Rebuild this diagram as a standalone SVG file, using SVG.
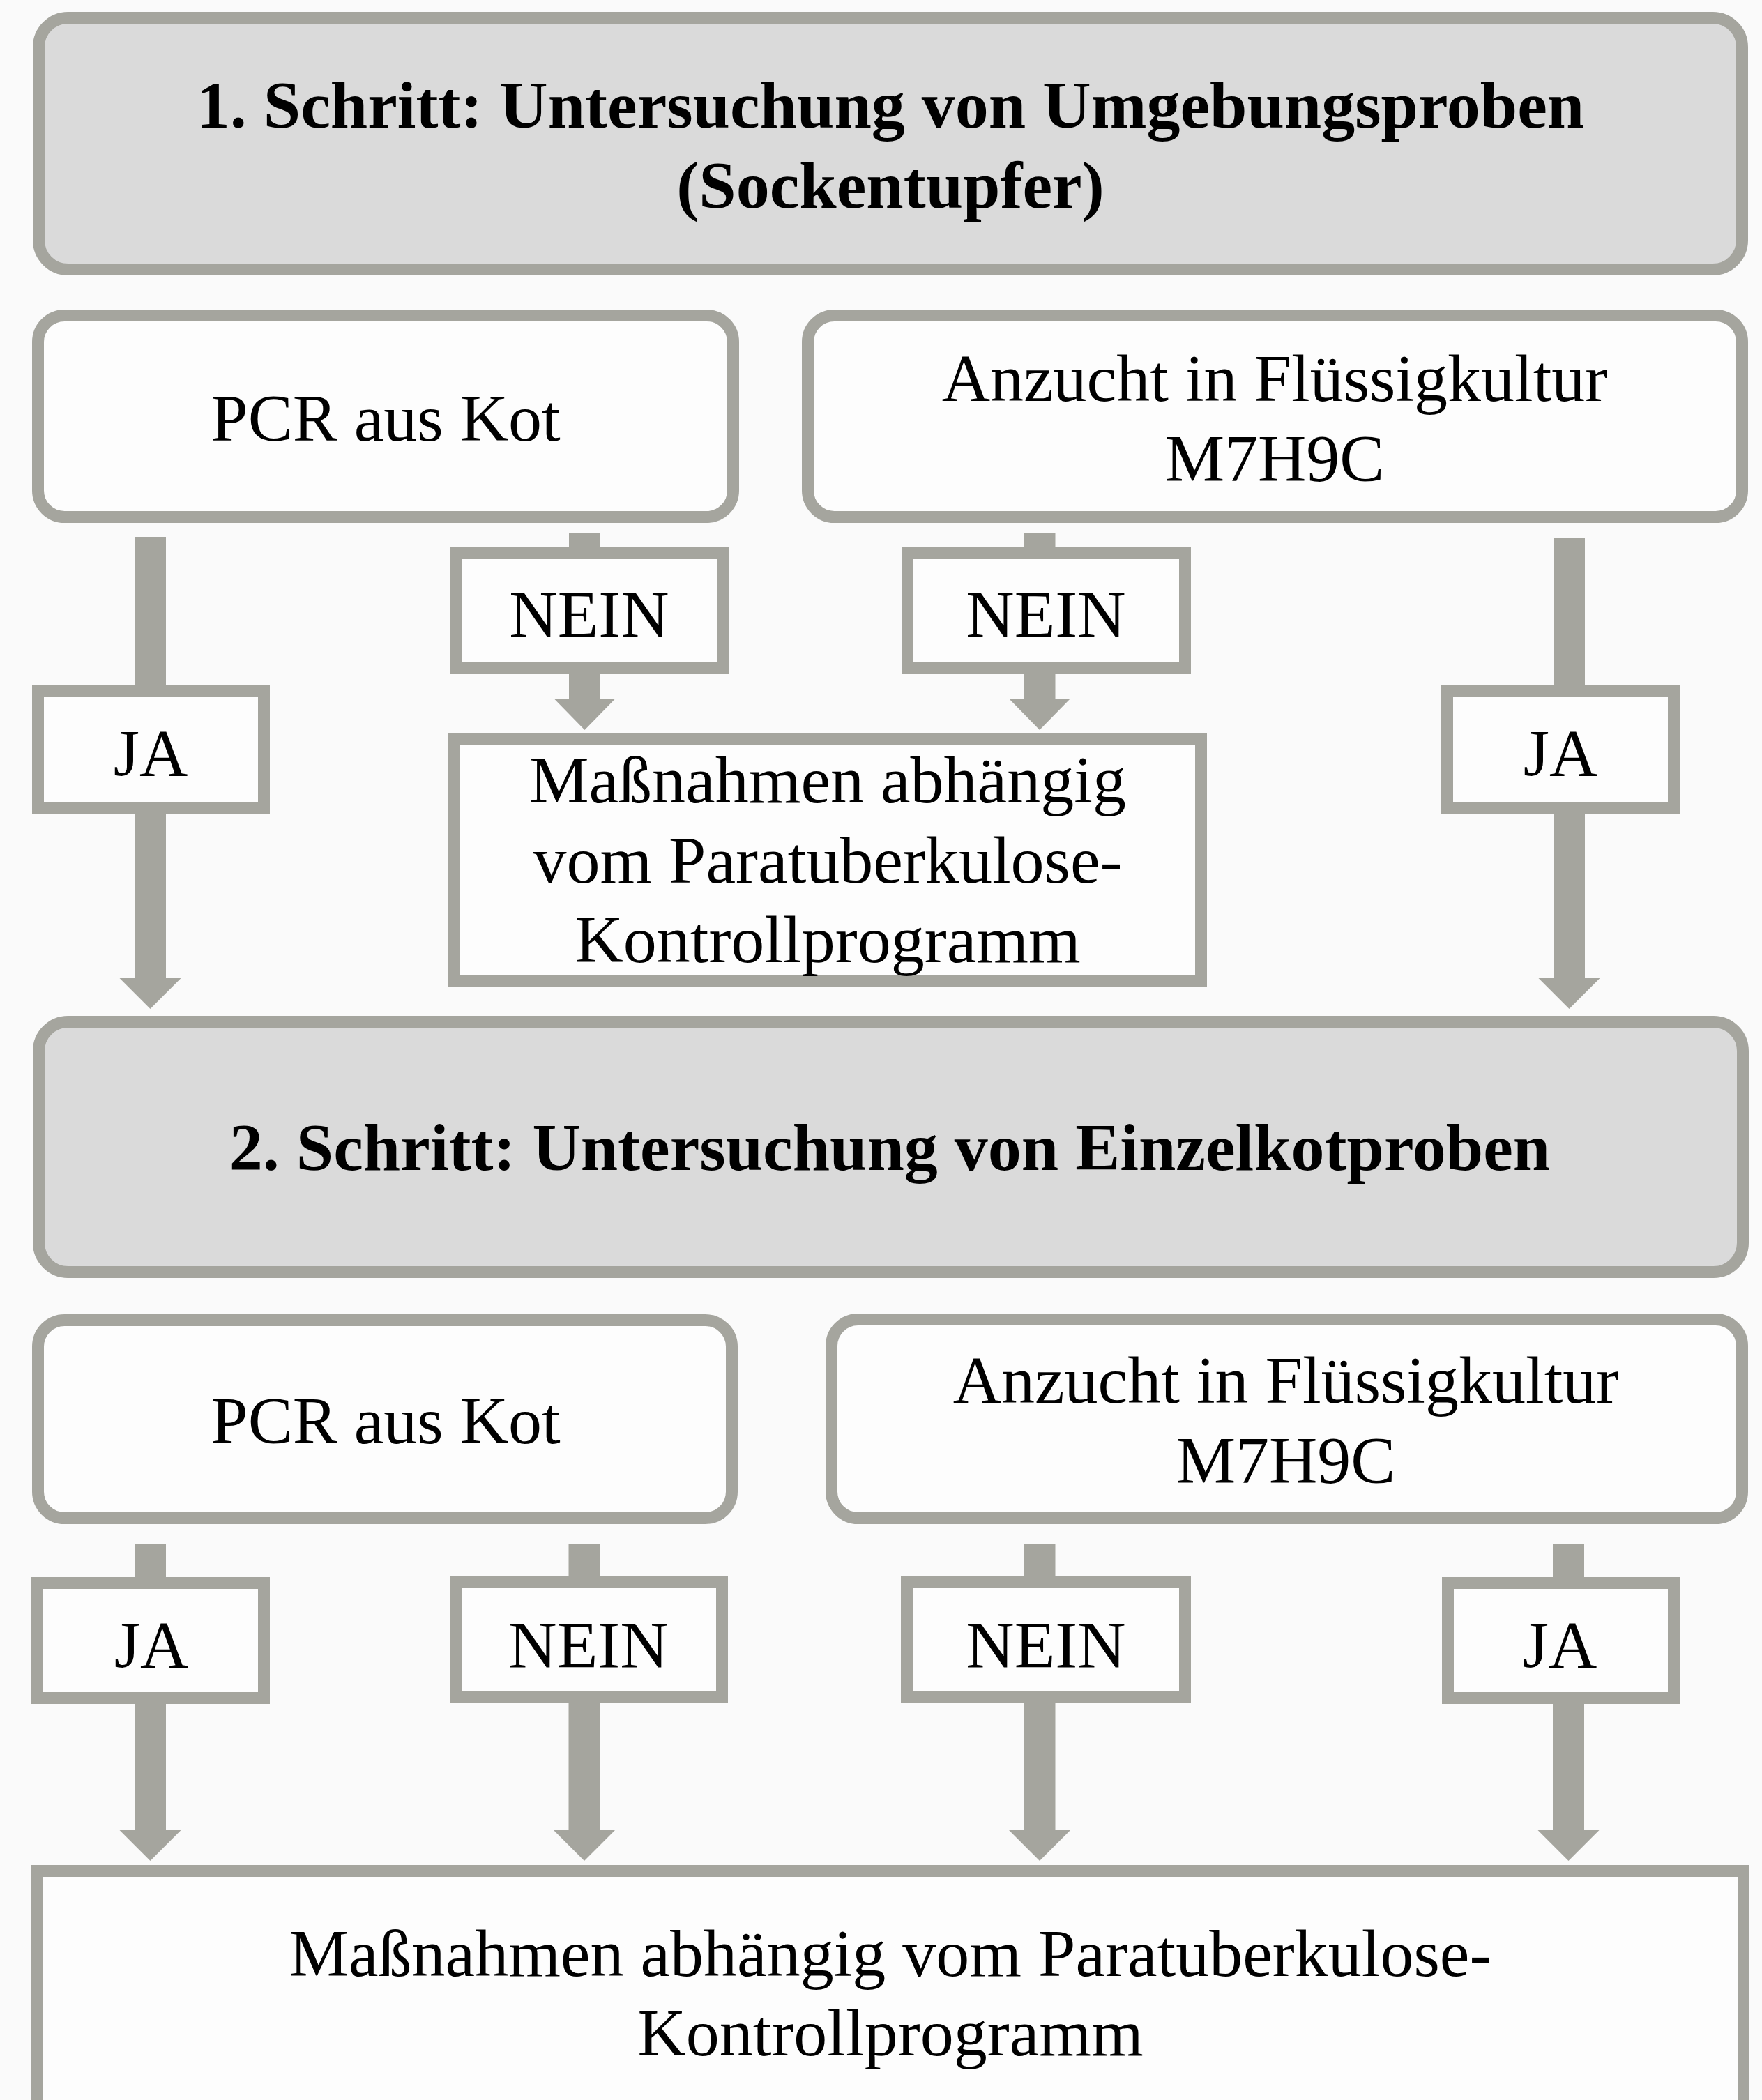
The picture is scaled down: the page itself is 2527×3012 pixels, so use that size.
<svg xmlns="http://www.w3.org/2000/svg" width="2527" height="3012" viewBox="0 0 2527 3012">
<style>
.step{fill:#dadada;stroke:#a5a59e;stroke-width:17}
.box{fill:#fdfdfd;stroke:#a5a59e;stroke-width:17}
.conn{fill:#a5a59e;stroke:none}
.tb{font-family:"Liberation Serif","Times New Roman",serif;font-weight:bold;font-size:96px;fill:#000;text-anchor:middle}
.t{font-family:"Liberation Serif","Times New Roman",serif;font-size:96px;fill:#000;text-anchor:middle}
</style>
<rect width="2527" height="3012" fill="#fafafa"/>
<g id="connectors">
<path class="conn" d="M193 770 H238 V1403 H259.5 L215.5 1447 L171.5 1403 H193 Z"/>
<path class="conn" d="M816 764 H861 V1002 H882.5 L838.5 1047 L794.5 1002 H816 Z"/>
<path class="conn" d="M1468.5 764 H1513.5 V1002 H1535 L1491 1047 L1447 1002 H1468.5 Z"/>
<path class="conn" d="M2228 772 H2273 V1403 H2294.5 L2250.5 1447 L2206.5 1403 H2228 Z"/>
<path class="conn" d="M193 2215 H238 V2625 H259.5 L215.5 2669 L171.5 2625 H193 Z"/>
<path class="conn" d="M815.5 2215 H860.5 V2625 H882 L838 2669 L794 2625 H815.5 Z"/>
<path class="conn" d="M1468.5 2215 H1513.5 V2625 H1535 L1491 2669 L1447 2625 H1468.5 Z"/>
<path class="conn" d="M2227 2215 H2272 V2625 H2293.5 L2249.5 2669 L2205.5 2625 H2227 Z"/>
</g>
<g id="step1">
<rect class="step" x="55.5" y="25.5" width="2443" height="361" rx="42"/>
<text class="tb" x="1277" y="183">1. Schritt: Untersuchung von Umgebungsproben</text>
<text class="tb" x="1277" y="298">(Sockentupfer)</text>
</g>
<g id="pcr1">
<rect class="box" x="54.5" y="452.5" width="997" height="289" rx="38"/>
<text class="t" x="553" y="632">PCR aus Kot</text>
</g>
<g id="anzucht1">
<rect class="box" x="1158.5" y="452.5" width="1340" height="289" rx="38"/>
<text class="t" x="1828" y="575">Anzucht in Flüssigkultur</text>
<text class="t" x="1828" y="690">M7H9C</text>
</g>
<g id="nein1a">
<rect class="box" x="653.5" y="793.5" width="383" height="164"/>
<text class="t" x="845" y="914">NEIN</text>
</g>
<g id="nein1b">
<rect class="box" x="1301.5" y="793.5" width="398" height="164"/>
<text class="t" x="1500" y="914">NEIN</text>
</g>
<g id="ja1a">
<rect class="box" x="54.5" y="991.5" width="324" height="167"/>
<text class="t" x="216" y="1113">JA</text>
</g>
<g id="ja1b">
<rect class="box" x="2075.5" y="991.5" width="325" height="167"/>
<text class="t" x="2238" y="1113">JA</text>
</g>
<g id="massnahmen1">
<rect class="box" x="651.5" y="1059.5" width="1071" height="347"/>
<text class="t" x="1187" y="1151">Maßnahmen abhängig</text>
<text class="t" x="1187" y="1266">vom Paratuberkulose-</text>
<text class="t" x="1187" y="1380">Kontrollprogramm</text>
</g>
<g id="step2">
<rect class="step" x="55.5" y="1465.5" width="2444" height="359" rx="42"/>
<text class="tb" x="1276" y="1678">2. Schritt: Untersuchung von Einzelkotproben</text>
</g>
<g id="pcr2">
<rect class="box" x="54.5" y="1893.5" width="995" height="284" rx="38"/>
<text class="t" x="553" y="2070">PCR aus Kot</text>
</g>
<g id="anzucht2">
<rect class="box" x="1192.5" y="1892.5" width="1306" height="285" rx="38"/>
<text class="t" x="1844" y="2012">Anzucht in Flüssigkultur</text>
<text class="t" x="1844" y="2127">M7H9C</text>
</g>
<g id="ja2a">
<rect class="box" x="53.5" y="2270.5" width="325" height="165"/>
<text class="t" x="217" y="2392">JA</text>
</g>
<g id="nein2a">
<rect class="box" x="653.5" y="2268.5" width="382" height="165"/>
<text class="t" x="844" y="2392">NEIN</text>
</g>
<g id="nein2b">
<rect class="box" x="1300.5" y="2268.5" width="399" height="165"/>
<text class="t" x="1500" y="2392">NEIN</text>
</g>
<g id="ja2b">
<rect class="box" x="2076.5" y="2270.5" width="324" height="165"/>
<text class="t" x="2237" y="2392">JA</text>
</g>
<g id="massnahmen2">
<rect class="box" x="53.5" y="2683.5" width="2447" height="400"/>
<text class="t" x="1277" y="2834">Maßnahmen abhängig vom Paratuberkulose-</text>
<text class="t" x="1277" y="2948">Kontrollprogramm</text>
</g>
</svg>
